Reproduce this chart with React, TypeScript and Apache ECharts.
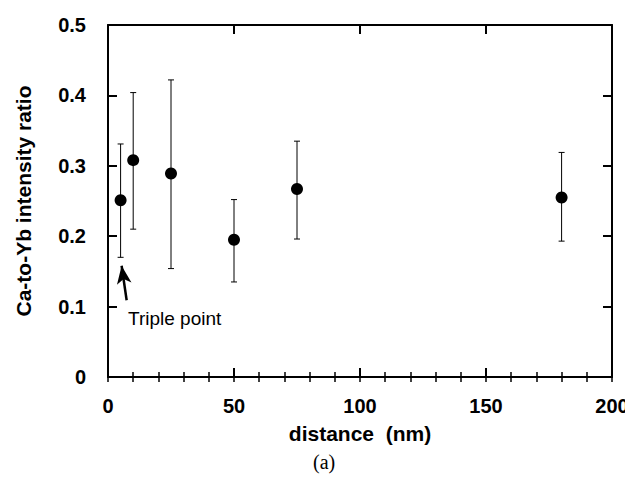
import React, { useEffect, useRef } from "react";
import * as echarts from "echarts";

const distances = [5, 10, 25, 50, 75, 180];
const ratios = [0.251, 0.308, 0.289, 0.195, 0.267, 0.255];
const upper = [0.331, 0.404, 0.422, 0.252, 0.335, 0.319];
const lower = [0.170, 0.210, 0.154, 0.135, 0.196, 0.193];
const xTicks = [0, 50, 100, 150, 200];
const yTicks = [0, 0.1, 0.2, 0.3, 0.4, 0.5];
const arrowFrom = [7.4, 0.109];
const arrowTo = [5.4, 0.158];

const FONT = "'Liberation Sans', Arial, Helvetica, sans-serif";

export default function App() {
  const ref = useRef<HTMLDivElement>(null);
  useEffect(() => {
    if (!ref.current) return;
    const chart = echarts.init(ref.current, undefined, { renderer: "svg" });
    const axisLine = { show: true, onZero: false, lineStyle: { color: "#000", width: 2 } };
    const xMin = xTicks[0];
    const xMax = xTicks[xTicks.length - 1];
    const xMajor = (position: string) => ({
      type: "value" as const,
      min: xMin,
      max: xMax,
      interval: 50,
      position,
      axisLine,
      splitLine: { show: false },
      axisTick: { show: true, inside: true, length: 9, lineStyle: { color: "#000", width: 2 } },
      axisLabel: { show: false },
    });
    const xMinor = (position: string) => ({
      type: "value" as const,
      min: xMin,
      max: xMax,
      interval: 10,
      position,
      axisLine: { show: false },
      splitLine: { show: false },
      axisTick: { show: true, inside: true, length: 5, lineStyle: { color: "#000", width: 1.5 } },
      axisLabel: { show: false },
    });
    const yCommon = {
      type: "value" as const,
      min: yTicks[0],
      max: yTicks[yTicks.length - 1],
      interval: 0.1,
      axisLine,
      splitLine: { show: false },
      axisTick: { show: true, inside: true, length: 9, lineStyle: { color: "#000", width: 2 } },
    };
    const errData = distances.map((d, i) => [d, lower[i], upper[i]]);
    chart.setOption({
      animation: false,
      backgroundColor: "#fff",
      grid: { left: 108, right: 21, top: 25, bottom: 106, containLabel: false },
      xAxis: [
        {
          ...xMajor("bottom"),
          name: "distance  (nm)",
          nameLocation: "middle",
          nameGap: 46,
          nameTextStyle: { fontFamily: FONT, fontWeight: "bold", fontSize: 21, color: "#000" },
          axisLabel: {
            show: true,
            margin: 19,
            fontFamily: FONT,
            fontWeight: "bold",
            fontSize: 20,
            color: "#000",
            formatter: (v: number) => String(v),
          },
        },
        xMajor("top"),
        xMinor("bottom"),
        xMinor("top"),
      ],
      yAxis: [
        {
          ...yCommon,
          position: "left",
          name: "Ca-to-Yb intensity ratio",
          nameLocation: "middle",
          nameRotate: 90,
          nameGap: 74,
          nameTextStyle: { fontFamily: FONT, fontWeight: "bold", fontSize: 21, color: "#000" },
          axisLabel: {
            show: true,
            margin: 22,
            fontFamily: FONT,
            fontWeight: "bold",
            fontSize: 20,
            color: "#000",
            formatter: (v: number) => (v === 0 ? "0" : v.toFixed(1)),
          },
        },
        { ...yCommon, position: "right", axisLabel: { show: false } },
      ],
      graphic: [
        {
          type: "text",
          left: 128,
          top: 309,
          style: { text: "Triple point", font: `19px ${FONT}`, fill: "#000" },
        },
        {
          type: "text",
          left: 313,
          top: 452,
          style: { text: "(a)", font: "20px 'Liberation Serif', 'Times New Roman', serif", fill: "#000" },
        },
      ],
      series: [
        {
          type: "custom",
          xAxisIndex: 0,
          yAxisIndex: 0,
          data: errData,
          renderItem: (params: any, api: any) => {
            const x = api.value(0);
            const lo = api.coord([x, api.value(1)]);
            const hi = api.coord([x, api.value(2)]);
            const cap = 3;
            const style = { stroke: "#000", lineWidth: 1 };
            return {
              type: "group",
              children: [
                { type: "line", shape: { x1: lo[0], y1: lo[1], x2: hi[0], y2: hi[1] }, style },
                { type: "line", shape: { x1: lo[0] - cap, y1: lo[1], x2: lo[0] + cap, y2: lo[1] }, style },
                { type: "line", shape: { x1: hi[0] - cap, y1: hi[1], x2: hi[0] + cap, y2: hi[1] }, style },
              ],
            };
          },
          z: 2,
        },
        {
          type: "scatter",
          xAxisIndex: 0,
          yAxisIndex: 0,
          data: distances.map((d, i) => [d, ratios[i]]),
          symbol: "circle",
          symbolSize: 12,
          itemStyle: { color: "#000", opacity: 1 },
          z: 3,
          markLine: {
            silent: true,
            symbol: ["none", "arrow"],
            symbolSize: [11, 18],
            label: { show: false },
            lineStyle: { color: "#000", width: 2.5, type: "solid" },
            data: [[{ coord: arrowFrom }, { coord: arrowTo }]],
          },
        },
      ],
    });
    return () => chart.dispose();
  }, []);
  return <div ref={ref} style={{ width: 633, height: 483, margin: -8 }} />;
}
